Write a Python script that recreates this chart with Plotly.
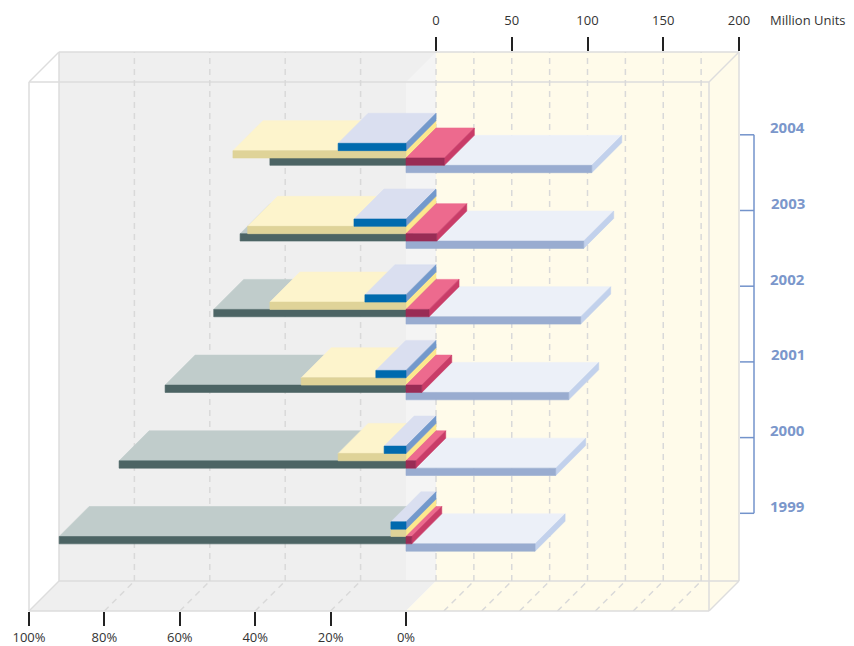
import plotly.graph_objects as go

# ---------------- data ----------------
YEARS = ["1999", "2000", "2001", "2002", "2003", "2004"]
PCT_TICKS = [0, 20, 40, 60, 80, 100]
UNIT_TICKS = [0, 50, 100, 150, 200]
UNIT_GRID = [25, 50, 75, 100, 125, 150, 175]
PCT_GRID = [20, 40, 60, 80]

SHARE_SLATE = [92.0, 76.1, 63.9, 51.0, 44.0, 36.1]    # %
SHARE_YELLOW = [4.0, 18.0, 27.8, 36.1, 42.0, 45.9]    # %
SHARE_BLUE = [4.0, 5.8, 8.0, 10.9, 13.8, 18.0]        # %
UNITS_PINK = [3.8, 6.4, 10.4, 15.2, 20.3, 25.3]       # million units
UNITS_LAVENDER = [85.2, 98.8, 107.4, 115.3, 117.3, 122.6]  # million units

# ---------------- geometry / style ----------------
W, H = 854, 646
ML, MR, MT, MB = 29, 115, 52, 35
PW, PH = W - ML - MR, H - MT - MB
DEPTH = 30.0            # px oblique depth
PCT_SPAN = 377.0        # px for 100 %
UNIT_SPAN = 303.0       # px for 200 units
CAT = 75.7              # px per year
FIRST_TICK_FROM_BOTTOM = 97.7
SLOT_PX, OFF_PX = 7.35, 8.5

PMAX, UMAX = 100.0, 200.0
x_range = [PMAX, PMAX - PW / PCT_SPAN * PMAX]
x2_range = [-(PCT_SPAN + DEPTH) / UNIT_SPAN * UMAX, UMAX]
Y0 = -FIRST_TICK_FROM_BOTTOM / CAT
Y1 = Y0 + PH / CAT
dp = DEPTH / PCT_SPAN * PMAX
du = DEPTH / UNIT_SPAN * UMAX
dy = DEPTH / CAT
SLOT = SLOT_PX / CAT
OFF = OFF_PX / CAT
DX = DEPTH / PW
DY = DEPTH / PH

FONT = "Open Sans"
GRID = "#d9d9d9"
EDGE = "#dddddd"

fig = go.Figure()


def add_faces(polys, color, xa):
    xs, ys = [], []
    for px, py in polys:
        xs += list(px) + [px[0], None]
        ys += list(py) + [py[0], None]
    fig.add_trace(go.Scatter(x=xs, y=ys, xaxis=xa, yaxis="y", mode="lines",
                             fill="toself", fillcolor=color,
                             line=dict(color=color, width=0.6),
                             hoverinfo="skip", showlegend=False))


def pct_bar(values, slot, c_front, c_top, c_side):
    fr, tp, sd = [], [], []
    for k, p in enumerate(values):
        yt = k - OFF - slot * SLOT
        yb = yt - SLOT
        fr.append(([0, p, p, 0], [yb, yb, yt, yt]))
        tp.append(([0, p, p - dp, -dp], [yt, yt, yt + dy, yt + dy]))
        sd.append(([0, 0, -dp, -dp], [yb, yt, yt + dy, yb + dy]))
    add_faces(tp, c_top, "x")
    add_faces(sd, c_side, "x")
    add_faces(fr, c_front, "x")


def unit_bar(values, slot, c_front, c_top, c_side):
    fr, tp, sd = [], [], []
    for k, v in enumerate(values):
        yt = k - OFF - slot * SLOT
        yb = yt - SLOT
        fr.append(([-du, v - du, v - du, -du], [yb, yb, yt, yt]))
        tp.append(([-du, v - du, v, 0], [yt, yt, yt + dy, yt + dy]))
        sd.append(([v - du, v - du, v, v], [yb, yt, yt + dy, yb + dy]))
    add_faces(tp, c_top, "x2")
    add_faces(sd, c_side, "x2")
    add_faces(fr, c_front, "x2")


# painter's order: lowest slot first
unit_bar(UNITS_LAVENDER, 3, "#99acd0", "#ecf0f8", "#c2d1ec")
pct_bar(SHARE_SLATE, 2, "#4c6464", "#c0cccb", "#8a9a9a")
unit_bar(UNITS_PINK, 2, "#992c55", "#ed6a8e", "#c93c68")
pct_bar(SHARE_YELLOW, 1, "#dfd398", "#fdf4cc", "#fce88e")
pct_bar(SHARE_BLUE, 0, "#006aae", "#dadff0", "#7399cc")

shapes = []
split = PCT_SPAN / PW  # paper x of 0 % on the front plane


def poly_path(pts):
    return "M " + " L ".join(f"{x},{y}" for x, y in pts) + " Z"


def paper_poly(pts, fill):
    shapes.append(dict(type="path", xref="paper", yref="paper", path=poly_path(pts),
                       fillcolor=fill, line=dict(width=0), layer="below"))


# walls and floors
paper_poly([(DX, DY), (split + DX, DY), (split + DX, 1), (DX, 1)], "#efefef")
paper_poly([(split + DX, DY), (1, DY), (1, 1), (split + DX, 1)], "#fffbea")
paper_poly([(split, 0), (split + DX, DY), (split + DX, 1), (split, 1 - DY)], "#f4f4f4")
paper_poly([(0, 0), (split, 0), (split + DX, DY), (DX, DY)], "#efefef")
paper_poly([(split, 0), (1 - DX, 0), (1, DY), (split + DX, DY)], "#fffbea")
paper_poly([(1 - DX, 0), (1, DY), (1, 1), (1 - DX, 1 - DY)], "#fffbea")

# gridlines
for g in PCT_GRID:
    shapes.append(dict(type="line", xref="x", yref="y", x0=g - dp, x1=g - dp, y0=Y0 + dy, y1=Y1,
                       line=dict(color=GRID, width=1.5, dash="6px,5px"), layer="below"))
    shapes.append(dict(type="line", xref="x", yref="y", x0=g, x1=g - dp, y0=Y0, y1=Y0 + dy,
                       line=dict(color=GRID, width=1.5, dash="6px,5px"), layer="below"))
for g in [0] + UNIT_GRID:
    shapes.append(dict(type="line", xref="x2", yref="y", x0=g, x1=g, y0=Y0 + dy, y1=Y1,
                       line=dict(color=GRID, width=1.5, dash="6px,5px"), layer="below"))
for g in UNIT_GRID:
    shapes.append(dict(type="line", xref="x2", yref="y", x0=g - du, x1=g, y0=Y0, y1=Y0 + dy,
                       line=dict(color=GRID, width=1.5, dash="6px,5px"), layer="below"))

# box edges
edges = [
    ((0, 0), (0, 1 - DY)), ((0, 1 - DY), (1 - DX, 1 - DY)), ((1 - DX, 0), (1 - DX, 1 - DY)),
    ((0, 0), (1 - DX, 0)), ((0, 1 - DY), (DX, 1)), ((1 - DX, 1 - DY), (1, 1)),
    ((1 - DX, 0), (1, DY)), ((0, 0), (DX, DY)),
    ((DX, DY), (DX, 1)), ((DX, 1), (1, 1)), ((1, DY), (1, 1)), ((DX, DY), (1, DY)),
]
for (a, b) in edges:
    shapes.append(dict(type="line", xref="paper", yref="paper", x0=a[0], y0=a[1], x1=b[0], y1=b[1],
                       line=dict(color=EDGE, width=1.5), layer="below"))

# right-hand year bracket
BR_X = 1 + 15.0 / PW
BR_X0 = 1 + 1.0 / PW
BLUE_AX = "#7393cb"
shapes.append(dict(type="line", xref="paper", yref="y", x0=BR_X, x1=BR_X, y0=0, y1=len(YEARS) - 1,
                   line=dict(color=BLUE_AX, width=1.5)))
annotations = []
for k, yr in enumerate(YEARS):
    shapes.append(dict(type="line", xref="paper", yref="y", x0=BR_X0, x1=BR_X, y0=k, y1=k,
                       line=dict(color=BLUE_AX, width=1.5)))
    annotations.append(dict(xref="paper", yref="y", x=1 + 48.7 / PW, y=k, yshift=7.5,
                            text=f"<b>{yr}</b>", showarrow=False, xanchor="center", yanchor="middle",
                            font=dict(family=FONT, size=15, color="#7b97cb")))

annotations.append(dict(xref="paper", yref="paper", x=1 + 69.0 / PW, y=1 + 32.0 / PH,
                        text="Million Units", showarrow=False, xanchor="center", yanchor="middle",
                        font=dict(family=FONT, size=13, color="#333333")))

fig.update_layout(
    width=W, height=H, margin=dict(l=ML, r=MR, t=MT, b=MB, autoexpand=False),
    paper_bgcolor="white", plot_bgcolor="white", showlegend=False,
    shapes=shapes, annotations=annotations,
    xaxis=dict(range=x_range, tickvals=PCT_TICKS, ticktext=[f"{t}%" for t in PCT_TICKS],
               ticks="outside", ticklen=14, tickwidth=2, tickcolor="#222222",
               showgrid=False, zeroline=False, showline=False, fixedrange=True,
               tickfont=dict(family=FONT, size=13, color="#333333")),
    xaxis2=dict(range=x2_range, overlaying="x", side="top", anchor="y",
                tickvals=UNIT_TICKS, ticks="outside", ticklen=14, tickwidth=2, tickcolor="#222222",
                ticklabelstandoff=7,
                showgrid=False, zeroline=False, showline=False, fixedrange=True,
                tickfont=dict(family=FONT, size=13, color="#333333")),
    yaxis=dict(range=[Y0, Y1], visible=False, fixedrange=True),
)

fig.write_html("out.html")
